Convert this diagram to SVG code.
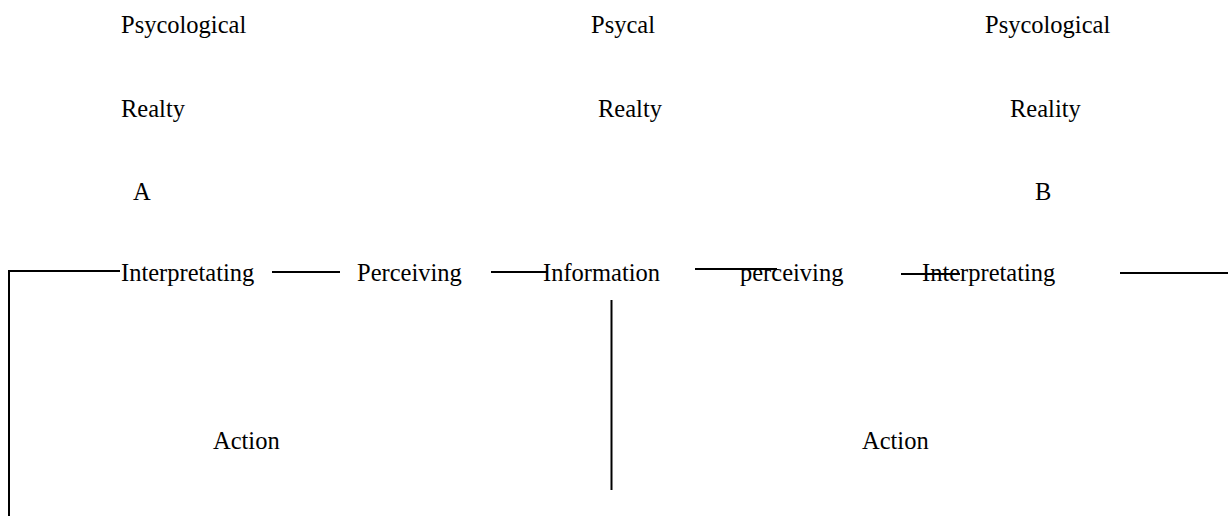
<svg xmlns="http://www.w3.org/2000/svg" width="1228" height="516" viewBox="0 0 1228 516">
<style>
text{font-family:"Liberation Serif","Times New Roman",serif;font-size:24.5px;fill:#000}
.c line{stroke:#000;stroke-width:2}
</style>
<rect width="1228" height="516" fill="#fff"/>
<g id="nodes">
<g id="psyA"><text x="121" y="33">Psycological</text><text x="121" y="117">Realty</text><text x="133" y="200">A</text></g>
<g id="psyMid"><text x="591" y="33">Psycal</text><text x="598" y="117">Realty</text></g>
<g id="psyB"><text x="985" y="33">Psycological</text><text x="1010" y="117">Reality</text><text x="1035" y="200">B</text></g>
<g id="interpA"><text x="121" y="281">Interpretating</text></g>
<g id="percA"><text x="357" y="281">Perceiving</text></g>
<g id="info"><text x="543" y="281">Information</text></g>
<g id="percB"><text x="740" y="281">perceiving</text></g>
<g id="interpB"><text x="922" y="281">Interpretating</text></g>
<g id="actionA"><text x="213" y="449">Action</text></g>
<g id="actionB"><text x="862" y="449">Action</text></g>
</g>
<g id="connectors" class="c">
<polyline points="120,271 9,271 9,516" fill="none" stroke="#000" stroke-width="2"/>
<line x1="272" y1="272" x2="340" y2="272"/>
<line x1="491" y1="272" x2="547" y2="272"/>
<line x1="695" y1="269" x2="777" y2="269"/>
<line x1="901" y1="274" x2="960" y2="274"/>
<line x1="1120" y1="273" x2="1228" y2="273"/>
<line x1="611.5" y1="300" x2="611.5" y2="490"/>
</g>
</svg>
